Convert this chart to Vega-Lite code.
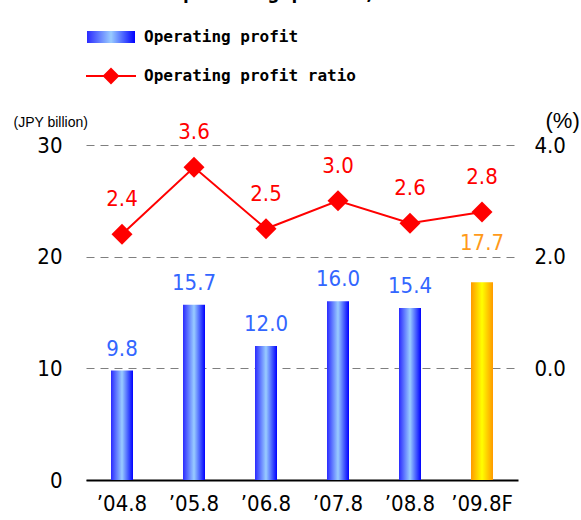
{
  "$schema": "https://vega.github.io/schema/vega-lite/v6.json",
  "autosize": {"type": "none"},
  "width": 432,
  "height": 335,
  "padding": {"left": 86, "top": 145, "right": 63, "bottom": 40},
  "title": {
    "text": "Operating profit, ratio",
    "frame": "group",
    "anchor": "start",
    "dx": 85,
    "offset": 0,
    "dy": -10,
    "baseline": "alphabetic",
    "font": "DejaVu Sans Mono",
    "fontSize": 20,
    "fontWeight": "bold",
    "color": "black"
  },
  "config": {
    "view": {"stroke": null},
    "font": "DejaVu Sans Condensed, Liberation Sans, sans-serif"
  },
  "data": {
    "values": [
      {"period": "’04.8", "profit": 9.8, "ratio": 2.4, "forecast": false},
      {"period": "’05.8", "profit": 15.7, "ratio": 3.6, "forecast": false},
      {"period": "’06.8", "profit": 12.0, "ratio": 2.5, "forecast": false},
      {"period": "’07.8", "profit": 16.0, "ratio": 3.0, "forecast": false},
      {"period": "’08.8", "profit": 15.4, "ratio": 2.6, "forecast": false},
      {"period": "’09.8F", "profit": 17.7, "ratio": 2.8, "forecast": true}
    ]
  },
  "encoding": {
    "x": {
      "field": "period",
      "type": "nominal",
      "sort": null,
      "scale": {"paddingInner": 0, "paddingOuter": 0},
      "axis": {
        "title": null,
        "labelAngle": 0,
        "ticks": false,
        "domainColor": "black",
        "domainWidth": 2,
        "labelFont": "DejaVu Sans Condensed, Liberation Sans, sans-serif",
        "labelFontSize": 22,
        "labelColor": "black",
        "labelPadding": 13
      }
    }
  },
  "layer": [
    {
      "encoding": {
        "y": {
          "field": "profit",
          "type": "quantitative",
          "scale": {"domain": [0, 30], "nice": false},
          "axis": {
            "orient": "left",
            "values": [0, 10, 20, 30],
            "grid": true,
            "gridDash": [8, 6],
            "gridColor": "#7f7f7f",
            "gridWidth": 1,
            "domain": false,
            "ticks": false,
            "labelPadding": 24,
            "labelFont": "DejaVu Sans Condensed, Liberation Sans, sans-serif",
            "labelFontSize": 22,
            "labelColor": "black",
            "title": "(JPY billion)",
            "titleAngle": 0,
            "titleX": -73,
            "titleY": -23,
            "titleAlign": "left",
            "titleBaseline": "middle",
            "titleFont": "Liberation Sans",
            "titleFontSize": 14,
            "titleFontWeight": "normal",
            "titleColor": "black"
          }
        }
      },
      "layer": [
        {
          "transform": [{"filter": "!datum.forecast"}],
          "mark": {
            "type": "bar",
            "width": 22,
            "fill": {
              "gradient": "linear", "x1": 0, "y1": 0, "x2": 1, "y2": 0,
              "stops": [
                {"offset": 0, "color": "#2a2aff"},
                {"offset": 0.5, "color": "#99ccff"},
                {"offset": 1, "color": "#0000ff"}
              ]
            }
          }
        },
        {
          "transform": [{"filter": "datum.forecast"}],
          "mark": {
            "type": "bar",
            "width": 22,
            "fill": {
              "gradient": "linear", "x1": 0, "y1": 0, "x2": 1, "y2": 0,
              "stops": [
                {"offset": 0, "color": "#ff9900"},
                {"offset": 0.5, "color": "#ffff00"},
                {"offset": 1, "color": "#ff9900"}
              ]
            }
          }
        },
        {
          "transform": [{"filter": "!datum.forecast"}],
          "mark": {"type": "text", "dy": -22, "baseline": "middle", "fontSize": 22, "font": "DejaVu Sans Condensed, Liberation Sans, sans-serif", "color": "#3366ff"},
          "encoding": {"text": {"field": "profit", "type": "quantitative", "format": ".1f"}}
        },
        {
          "transform": [{"filter": "datum.forecast"}],
          "mark": {"type": "text", "dy": -39, "baseline": "middle", "fontSize": 22, "font": "DejaVu Sans Condensed, Liberation Sans, sans-serif", "color": "#ff9a1a"},
          "encoding": {"text": {"field": "profit", "type": "quantitative", "format": ".1f"}}
        }
      ]
    },
    {
      "encoding": {
        "y": {
          "field": "ratio",
          "type": "quantitative",
          "scale": {"domain": [-2, 4], "nice": false},
          "axis": {
            "orient": "right",
            "values": [0, 2, 4],
            "format": ".1f",
            "grid": false,
            "domain": false,
            "ticks": false,
            "labelPadding": 16,
            "labelFont": "DejaVu Sans Condensed, Liberation Sans, sans-serif",
            "labelFontSize": 22,
            "labelColor": "black",
            "title": "(%)",
            "titleAngle": 0,
            "titleX": 27,
            "titleY": -25,
            "titleAlign": "left",
            "titleBaseline": "middle",
            "titleFont": "Liberation Sans",
            "titleFontSize": 22,
            "titleFontWeight": "normal",
            "titleColor": "black"
          }
        }
      },
      "layer": [
        {
          "mark": {"type": "line", "strokeWidth": 2},
          "encoding": {
            "stroke": {
              "datum": "Operating profit ratio",
              "type": "nominal",
              "scale": {"domain": ["Operating profit", "Operating profit ratio"], "range": ["#0000ff", "#ff0000"]},
              "legend": {
                "orient": "none",
                "legendX": 0,
                "legendY": -116,
                "title": null,
                "direction": "vertical",
                "padding": 0,
                "symbolSize": 2500,
                "symbolStrokeWidth": 2,
                "symbolOffset": 17,
                "labelFont": "DejaVu Sans Mono",
                "labelFontWeight": "bold",
                "labelFontSize": 16,
                "labelColor": "black",
                "labelOffset": 25,
                "labelLimit": 400,
                "rowPadding": 20,
                "encode": {
                  "symbols": {
                    "update": {
                      "shape": {"signal": "datum.value === 'Operating profit' ? 'M-0.96,-0.24H0.96V0.24H-0.96Z' : 'M-1,0H1M-0.28,0L0,-0.28L0.28,0L0,0.28Z'"},
                      "fill": {"signal": "datum.value === 'Operating profit' ? {gradient: 'linear', x1: 0, y1: 0, x2: 1, y2: 0, stops: [{offset: 0, color: '#2a2aff'}, {offset: 0.5, color: '#99ccff'}, {offset: 1, color: '#0000ff'}]} : '#ff0000'"},
                      "stroke": {"signal": "datum.value === 'Operating profit' ? null : '#ff0000'"},
                      "strokeWidth": {"signal": "datum.value === 'Operating profit' ? 0 : 2"},
                      "opacity": {"value": 1}
                    }
                  }
                }
              }
            }
          }
        },
        {
          "mark": {"type": "point", "shape": "diamond", "size": 440, "filled": true, "color": "#ff0000", "opacity": 1}
        },
        {
          "mark": {"type": "text", "dy": -35, "baseline": "middle", "fontSize": 22, "font": "DejaVu Sans Condensed, Liberation Sans, sans-serif", "color": "#ff0000"},
          "encoding": {"text": {"field": "ratio", "type": "quantitative", "format": ".1f"}}
        }
      ]
    }
  ],
  "resolve": {"scale": {"y": "independent"}}
}
